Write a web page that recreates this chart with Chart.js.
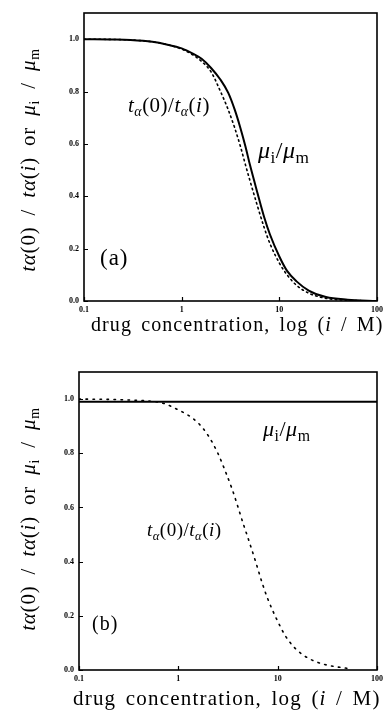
<!DOCTYPE html>
<html>
<head>
<meta charset="utf-8">
<script src="https://cdn.jsdelivr.net/npm/chart.js@4.4.1/dist/chart.umd.min.js"></script>
<style>
  html, body { margin: 0; padding: 0; background: #fff; }
  body { width: 387px; height: 712px; position: relative; overflow: hidden; font-family: "Liberation Serif", serif; color: #000; }
  canvas { position: absolute; left: 0; }
  .t { position: absolute; white-space: nowrap; line-height: 1; }
  .ytitle { font-size: 21px; letter-spacing: 0.8px; word-spacing: 5px; transform: translate(-50%, -50%) rotate(-90deg); }
  .xtitle { font-size: 20px; letter-spacing: 1.1px; word-spacing: 3px; }
  sub { font-size: 0.66em; vertical-align: baseline; position: relative; top: 0.3em; }
  .lbl { font-size: 21px; letter-spacing: 0.5px; }
  .mu sub { font-size: 0.72em; }
</style>
</head>
<body>
<canvas id="ca" width="387" height="340" style="top:0px;width:387px;height:340px"></canvas>
<canvas id="cb" width="387" height="372" style="top:340px;width:387px;height:372px"></canvas>

<div class="t ytitle" style="left:28px; top:160px;"><i>t</i><i>α</i>(0) / <i>t</i><i>α</i>(<i>i</i>) or <i>μ</i><sub>i</sub> / <i>μ</i><sub>m</sub></div>
<div class="t ytitle" style="left:28px; top:519px;"><i>t</i><i>α</i>(0) / <i>t</i><i>α</i>(<i>i</i>) or <i>μ</i><sub>i</sub> / <i>μ</i><sub>m</sub></div>

<div class="t xtitle" style="left:91px; top:314px;">drug concentration, log (<i>i</i> / M)</div>
<div class="t xtitle" style="left:73px; top:688px; font-size:21px; letter-spacing:1.2px;">drug concentration, log (<i>i</i> / M)</div>

<div class="t lbl" style="left:128px; top:95px;"><i>t</i><sub><i>α</i></sub>(0)/<i>t</i><sub><i>α</i></sub>(<i>i</i>)</div>
<div class="t lbl mu" style="left:258px; top:138px; font-size:24px;"><i>μ</i><sub>i</sub>/<i>μ</i><sub>m</sub></div>
<div class="t lbl" style="left:100px; top:246px; font-size:23px; letter-spacing:1px;">(a)</div>

<div class="t lbl mu" style="left:263px; top:418px; font-size:22px;"><i>μ</i><sub>i</sub>/<i>μ</i><sub>m</sub></div>
<div class="t lbl" style="left:147px; top:520px; font-size:19px;"><i>t</i><sub><i>α</i></sub>(0)/<i>t</i><sub><i>α</i></sub>(<i>i</i>)</div>
<div class="t lbl" style="left:92px; top:613px; font-size:20px; letter-spacing:1px;">(b)</div>

<script>
// ---- data ----
const conc = [0.1, 0.2, 0.3, 0.5, 0.7, 1, 1.3, 1.6, 2, 2.5, 3, 3.5, 4, 4.5, 5, 6, 7, 8, 10, 12, 15, 20, 30, 50, 100];

// panel (a)
const muRatioA = [1.0, 0.999, 0.997, 0.99, 0.98, 0.965, 0.945, 0.925, 0.89, 0.845, 0.795, 0.73, 0.66, 0.59, 0.52, 0.41, 0.32, 0.255, 0.17, 0.115, 0.075, 0.04, 0.015, 0.005, 0.0];
const tRatioA  = [1.0, 0.999, 0.997, 0.99, 0.98, 0.962, 0.94, 0.915, 0.875, 0.80, 0.73, 0.66, 0.59, 0.52, 0.46, 0.36, 0.28, 0.22, 0.145, 0.10, 0.06, 0.03, 0.01, 0.003, 0.0];

// panel (b)
const muRatioB = [0.99, 0.99, 0.99, 0.99, 0.99, 0.99, 0.99, 0.99, 0.99, 0.99, 0.99, 0.99, 0.99, 0.99, 0.99, 0.99, 0.99, 0.99, 0.99, 0.99, 0.99, 0.99, 0.99, 0.99, 0.99];
const tRatioB  = [1.0, 0.999, 0.997, 0.993, 0.985, 0.96, 0.937, 0.91, 0.865, 0.80, 0.73, 0.665, 0.60, 0.54, 0.49, 0.40, 0.32, 0.26, 0.18, 0.125, 0.08, 0.045, 0.02, 0.006, null];

// ticks
const xTickValues = [0.1, 1, 10, 100];
const xTickLabels = ['0.1', '1', '10', '100'];
const yTickValues = [0, 0.2, 0.4, 0.6, 0.8, 1.0];
const yTickLabels = ['0.0', '0.2', '0.4', '0.6', '0.8', '1.0'];

function pts(xs, ys) { return xs.map((x, i) => ({ x: x, y: ys[i] })); }

const framePlugin = {
  id: 'frame',
  afterDatasetsDraw(chart) {
    const { ctx, chartArea: a, scales } = chart;
    ctx.save();
    ctx.strokeStyle = '#000';
    ctx.lineWidth = 1.6;
    ctx.strokeRect(a.left, a.top, a.right - a.left, a.bottom - a.top);
    ctx.lineWidth = 1.2;
    ctx.beginPath();
    scales.x.ticks.forEach(t => {
      const px = Math.round(scales.x.getPixelForValue(t.value)) + 0.5;
      ctx.moveTo(px, a.bottom); ctx.lineTo(px, a.bottom - 4);
    });
    scales.y.ticks.forEach(t => {
      const py = Math.round(scales.y.getPixelForValue(t.value)) + 0.5;
      ctx.moveTo(a.left, py); ctx.lineTo(a.left + 4, py);
    });
    ctx.stroke();
    ctx.restore();
  }
};

function makeChart(id, pad, solid, dotted, dash) {
  const tickFont = { family: 'Liberation Serif', size: 8, weight: 'bold' };
  return new Chart(document.getElementById(id), {
    type: 'line',
    data: {
      datasets: [
        { data: pts(conc, solid), borderColor: '#000', borderWidth: 2, pointRadius: 0, cubicInterpolationMode: 'monotone', fill: false },
        { data: pts(conc, dotted), borderColor: '#000', borderWidth: 1.6, borderDash: dash, borderCapStyle: 'round', pointRadius: 0, cubicInterpolationMode: 'monotone', fill: false, spanGaps: false }
      ]
    },
    options: {
      responsive: false, animation: false, devicePixelRatio: 1,
      layout: { padding: pad },
      plugins: { legend: { display: false }, tooltip: { enabled: false }, title: { display: false } },
      scales: {
        x: {
          type: 'logarithmic', min: 0.1, max: 100,
          afterBuildTicks: s => { s.ticks = xTickValues.map(v => ({ value: v })); },
          afterFit: s => { s.height = 16; },
          ticks: { callback: (v, i) => xTickLabels[i], font: tickFont, color: '#000', padding: 4, maxRotation: 0, autoSkip: false },
          grid: { display: false, drawTicks: false },
          border: { display: false }
        },
        y: {
          type: 'linear', min: 0, max: 1.1,
          afterBuildTicks: s => { s.ticks = yTickValues.map(v => ({ value: v })); },
          afterFit: s => { s.width = 20; },
          ticks: { callback: (v, i) => yTickLabels[i], font: tickFont, color: '#000', padding: 5 },
          grid: { display: false, drawTicks: false },
          border: { display: false }
        }
      }
    },
    plugins: [framePlugin]
  });
}

makeChart('ca', { left: 64, right: 7, top: 13, bottom: 23 }, muRatioA, tRatioA, [1.5, 3.5]);
makeChart('cb', { left: 59, right: 10, top: 32, bottom: 26 }, muRatioB, tRatioB, [1.5, 5.5]);
</script>
</body>
</html>
